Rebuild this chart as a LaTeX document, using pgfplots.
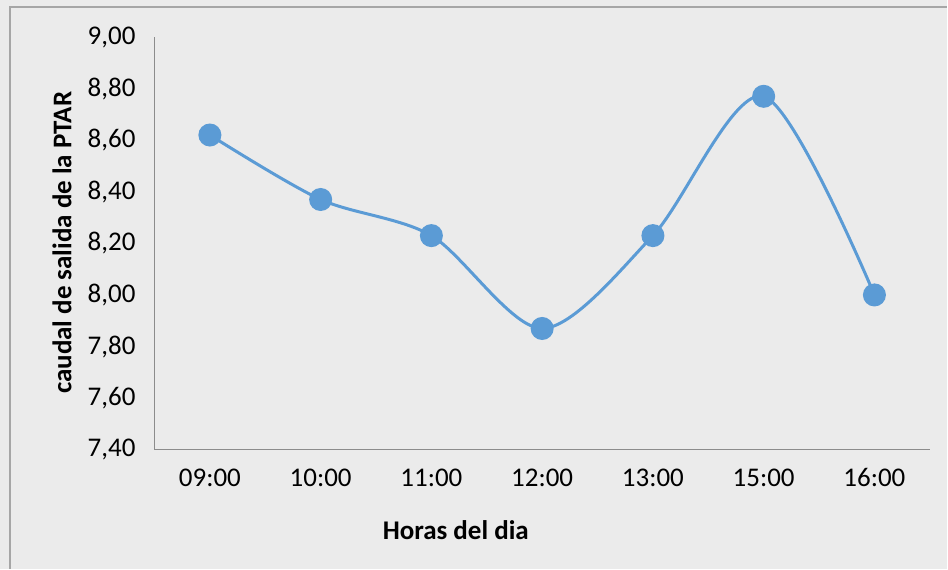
\documentclass[border=0pt]{standalone}
\usepackage{fontspec}
\setmainfont{Carlito}
\usepackage{pgfplots}
\pgfplotsset{compat=1.18}
\definecolor{linea}{HTML}{5B9BD5}
\definecolor{fondo}{HTML}{EBEBEB}
\definecolor{borde}{HTML}{A6A6A6}
\definecolor{eje}{HTML}{8C8C8C}
\begin{document}
\begin{tikzpicture}[x=0.5pt,y=0.5pt]
\fill[fondo] (0,0) rectangle (948,569);
\draw[borde, line width=0.6pt] (10,0) -- (10,562) -- (948,562);
\path[use as bounding box] (0,0) rectangle (948,569);
\begin{axis}[
    at={(77.3pt,59.5pt)}, anchor=south west,
    width=387.9pt, height=206.5pt, scale only axis,
    xmin=-0.5, xmax=6.5, ymin=7.4, ymax=9.0,
    xtick={0,...,6},
    xticklabels={09:00,10:00,11:00,12:00,13:00,15:00,16:00},
    ytick={7.4,7.6,...,9.01},
    yticklabel style={/pgf/number format/fixed, /pgf/number format/fixed zerofill,
      /pgf/number format/precision=2, /pgf/number format/use comma,
      /pgf/number format/assume math mode=true, xshift=-6pt},
    major tick length=0pt,
    axis line style={eje, line width=0.6pt},
    axis x line*=bottom, axis y line*=left,
    tick label style={font=\fontsize{13.5}{16}\selectfont, black},
    xticklabel style={yshift=-6pt},
    clip=false,
]
\addplot[linea, line width=1.5pt, smooth, mark=*, mark size=5pt, mark options={fill=linea, draw=linea}]
  coordinates {(0,8.62) (1,8.37) (2,8.23) (3,7.87) (4,8.23) (5,8.77) (6,8.00)};
\end{axis}
\node[font=\fontsize{13.5}{16}\selectfont\bfseries, rotate=90] at (62,326) {caudal de salida de la PTAR};
\node[font=\fontsize{13.5}{16}\selectfont\bfseries] at (456,39) {Horas del dia};
\end{tikzpicture}
\end{document}
